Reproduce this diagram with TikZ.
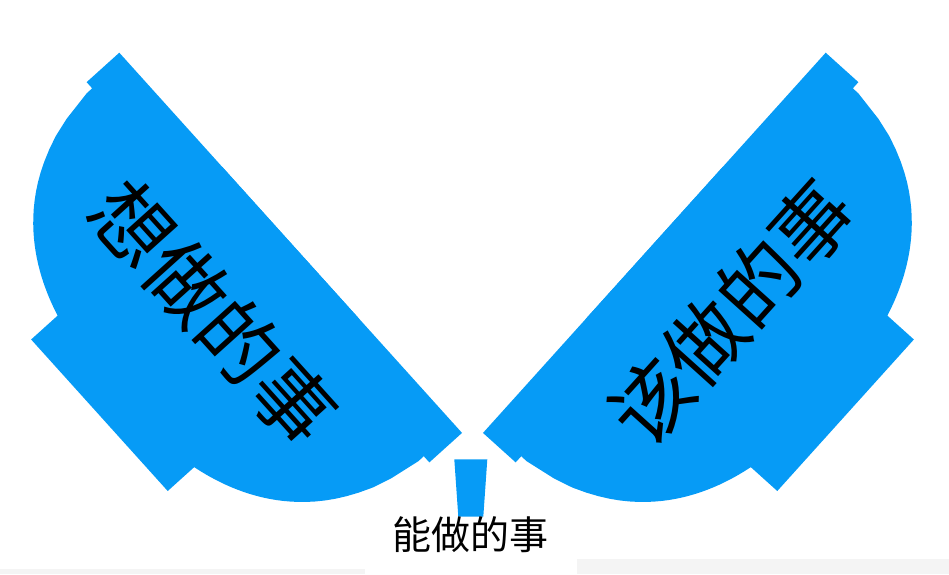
\documentclass[tikz,border=0pt]{standalone}
\usepackage{fontspec}
\newfontfamily\cjk{Noto Sans CJK SC}
\usepackage{tikz}
\definecolor{petal}{RGB}{6,155,246}
\definecolor{strip}{RGB}{244,244,244}

\begin{document}
\begin{tikzpicture}[x=1pt,y=1pt]
	\useasboundingbox (0,0) rectangle (949,-574); % same window as the screenshot
	% light band along the bottom edge
	\fill[strip] (0,-569) rectangle (365,-574);
	\fill[strip] (577,-559) rectangle (949,-574);
	% the two half discs (a bit squarish), the right one mirrored about x=472.5
	\foreach \s/\txt/\nm in {1/想做的事/want,-1/该做的事/should}{
		\begin{scope}[shift={(472.5,0)},xscale=\s,shift={(-353.2,-52.7)},rotate=-47.97]
			\fill[petal] (0,0) -- (0,-44) -- (8.3,-44)
				-- plot[domain=-247.7:247.7,samples=90,variable=\u] ({\u+256},{-232*(1-(abs(\u)/250)^2.5)^0.4})
				-- (503.6,-44) -- (511.9,-44) -- (511.9,0) -- cycle;
			\fill[petal] (154,0) rectangle (358,-257.5); % handle
			\node[transform shape,xscale=\s,font=\cjk\fontsize{80}{80}\selectfont] (\nm) at (256,-104) {\txt};
		\end{scope}
	}
	% the small piece in the middle
	\fill[petal] (454.3,-459.3) -- (487.3,-459.3) -- (483.3,-516.7) -- (458.3,-516.7) -- cycle;
	\node[font=\cjk\fontsize{39}{39}\selectfont] (can) at (470,-535) {能做的事};
\end{tikzpicture}
\end{document}
